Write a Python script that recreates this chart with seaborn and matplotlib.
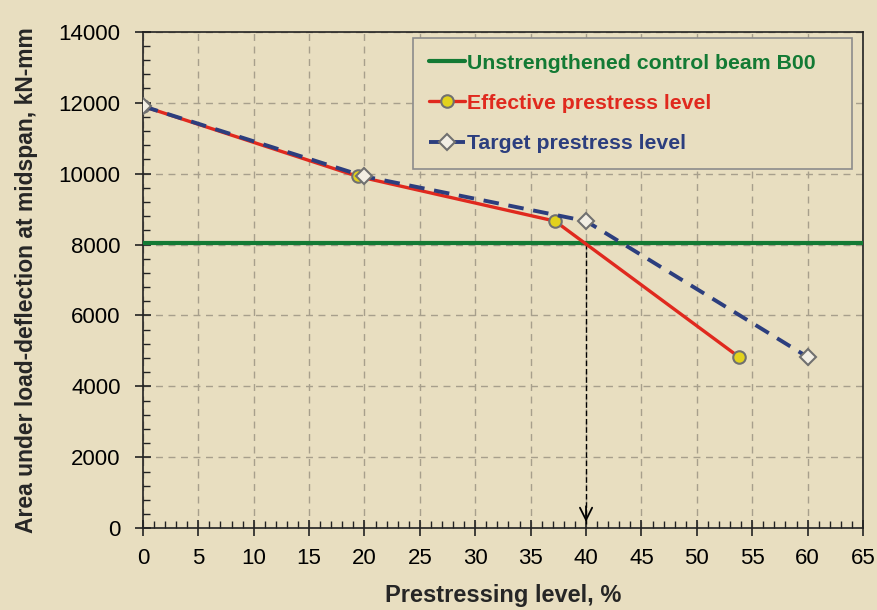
import matplotlib
matplotlib.use("Agg")
import matplotlib.pyplot as plt
import seaborn as sns
import pandas as pd
from matplotlib.ticker import MultipleLocator

# values
effective_x = [0, 19.4, 37.2, 53.8]
effective_y = [11900, 9920, 8660, 4830]
target_x = [0, 20, 40, 60]
target_y = [11900, 9920, 8660, 4830]
control_y = 8050
arrow_x = 40

bg = "#E8DEC0"
green = "#137A34"
red = "#E0291E"
blue = "#2C3E7E"

sns.set_theme(style="ticks")
plt.rcParams["font.family"] = ["Liberation Sans", "DejaVu Sans"]

df_eff = pd.DataFrame({"x": effective_x, "y": effective_y})
df_tar = pd.DataFrame({"x": target_x, "y": target_y})

fig = plt.figure(figsize=(8.77, 6.10), dpi=100, facecolor=bg)
ax = fig.add_axes([0.163, 0.134, 0.821, 0.814])
ax.set_facecolor(bg)

ax.axhline(control_y, color=green, lw=3, label="Unstrengthened control beam B00", zorder=3)
sns.lineplot(data=df_eff, x="x", y="y", ax=ax, color=red, lw=2.4, marker="o",
             markersize=9, markerfacecolor="#E2D21C", markeredgecolor="#707070",
             markeredgewidth=1.5, label="Effective prestress level", zorder=4)
sns.lineplot(data=df_tar, x="x", y="y", ax=ax, color=blue, lw=2.8, marker="D",
             markersize=8, markerfacecolor="#F2EEE4", markeredgecolor="#707070",
             markeredgewidth=1.5, label="Target prestress level", zorder=5)
ax.lines[-1].set_dashes([4, 2.5])

# dashed drop line with arrow at 40 %
ax.vlines(arrow_x, 120, control_y, colors="black", linestyles=(0, (4, 2)), lw=1, zorder=2)
ax.annotate("", xy=(arrow_x, 100), xytext=(arrow_x, 700),
            arrowprops=dict(arrowstyle="->", color="black", lw=1.3, mutation_scale=22))

ax.set_xlim(0, 65)
ax.set_ylim(0, 14000)
ax.xaxis.set_major_locator(MultipleLocator(5))
ax.xaxis.set_minor_locator(MultipleLocator(1))
ax.yaxis.set_major_locator(MultipleLocator(2000))
ax.yaxis.set_minor_locator(MultipleLocator(400))
ax.tick_params(which="major", direction="inout", length=12, width=1.2, colors="#222222",
               labelsize=16, labelcolor="black", pad=10)
ax.tick_params(which="minor", direction="in", length=5, width=1, colors="#222222")
ax.tick_params(axis="x", pad=8)
ax.grid(True, which="major", color="#A79F8C", ls=(0, (5, 4)), lw=1)
for s in ax.spines.values():
    s.set_color("#222222")
    s.set_linewidth(1.2)

ax.set_xlabel("Prestressing level, %", fontsize=17, fontweight="bold", labelpad=11)
ax.set_ylabel("Area under load-deflection at midspan, kN-mm", fontsize=16.5,
              fontweight="bold", labelpad=15)

leg = ax.legend(loc="upper left", bbox_to_anchor=(0.375, 0.738, 0.61, 0.25), mode="expand",
                prop={"weight": "bold", "size": 15.3},
                frameon=True, fancybox=False, edgecolor="#8C8C8C", facecolor=bg,
                framealpha=1, handlelength=1.7, handletextpad=0.1, labelspacing=1.0,
                borderpad=0.75, borderaxespad=0)
leg.get_frame().set_linewidth(1.2)
for t, c in zip(leg.get_texts(), [green, red, blue]):
    t.set_color(c)

fig.savefig("out.png", dpi=100, facecolor=bg)
